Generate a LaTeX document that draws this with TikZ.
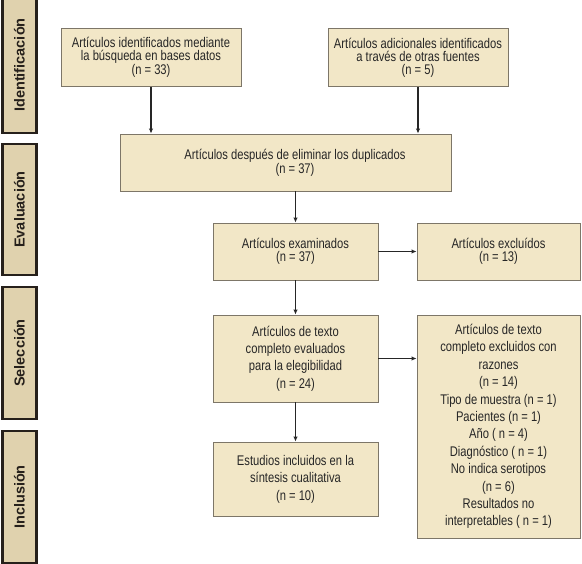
\documentclass[tikz,border=0pt]{standalone}
\usepackage{fontspec}
\setmainfont{Liberation Sans}
\newfontfamily\narrowfont[FakeStretch=0.8]{Liberation Sans}
\usetikzlibrary{arrows.meta}
\definecolor{boxfill}{RGB}{242,231,199}
\definecolor{boxline}{RGB}{125,118,104}
\definecolor{barfill}{RGB}{224,210,174}
\definecolor{barline}{RGB}{38,32,27}
\begin{document}
\begin{tikzpicture}[x=1pt,y=-1pt,
  boxtext/.style={align=center,font=\narrowfont\fontsize{14}{13}\selectfont,text=black!85},
  box/.style={boxtext,draw=boxline,fill=boxfill,line width=0.9pt,inner sep=0pt},
  tallbox/.style={box,font=\narrowfont\fontsize{14}{17.4}\selectfont},
  phase/.style={draw=barline,fill=barfill,line width=2.8pt,rotate=90,minimum height=34pt,
    inner sep=0pt,font=\bfseries\fontsize{14.5}{15}\selectfont,text=barline},
  arr/.style={-{Latex[length=5pt,width=4.5pt]},line width=1.1pt,draw=black!85}]
\useasboundingbox[fill=white] (0,0) rectangle (582,564);
% phases
\node[phase,minimum width=136pt] (barId) at (19.5,65) {Identificación};
\node[phase,minimum width=131pt] (barEv) at (19.5,209.5) {Evaluación};
\node[phase,minimum width=132pt] (barSel) at (19.5,353) {Selección};
\node[phase,minimum width=132pt] (barInc) at (19.5,497) {Inclusión};
% boxes
\node[box,minimum width=180pt,minimum height=58pt] (idA) at (151,57.5)
  {Artículos identificados mediante\\la búsqueda en bases datos\\(n = 33)};
\node[box,minimum width=180pt,minimum height=58pt] (idB) at (418,57.5)
  {Artículos adicionales identificados\\a través de otras fuentes\\(n = 5)};
\node[box,minimum width=331pt,minimum height=57pt] (dup) at (285.5,162.5) {};
\node[boxtext] (dupText) at (295,163)
  {Artículos después de eliminar los duplicados\\(n = 37)};
\node[box,minimum width=165pt,minimum height=57pt] (exam) at (295.5,251.5)
  {Artículos examinados\\(n = 37)};
\node[box,minimum width=163pt,minimum height=57pt] (excl) at (498.5,251.5)
  {Artículos excluídos\\(n = 13)};
\node[tallbox,minimum width=165pt,minimum height=87pt] (eval) at (295.5,358.5)
  {Artículos de texto\\completo evaluados\\para la elegibilidad\\(n = 24)};
\node[tallbox,minimum width=163pt,minimum height=223pt] (exclR) at (498.5,426.5)
  {Artículos de texto\\completo excluidos con\\razones\\(n = 14)\\Tipo de muestra (n = 1)\\
   Pacientes (n = 1)\\Año ( n = 4)\\Diagnóstico ( n = 1)\\No indica serotipos\\(n = 6)\\
   Resultados no\\interpretables ( n = 1)};
\node[tallbox,minimum width=165pt,minimum height=74pt] (incl) at (295.5,479)
  {Estudios incluidos en la\\síntesis cualitativa\\(n = 10)};
% arrows
\draw[arr] (idA.south) -- (idA.south |- dup.north);
\draw[arr] (idB.south) -- (idB.south |- dup.north);
\draw[arr] (exam.north |- dup.south) -- (exam.north);
\draw[arr] (exam.east) -- (excl.west);
\draw[arr] (exam.south) -- (eval.north);
\draw[arr] (eval.east) -- (exclR.west |- eval.east);
\draw[arr] (eval.south) -- (incl.north);
\end{tikzpicture}
\end{document}
